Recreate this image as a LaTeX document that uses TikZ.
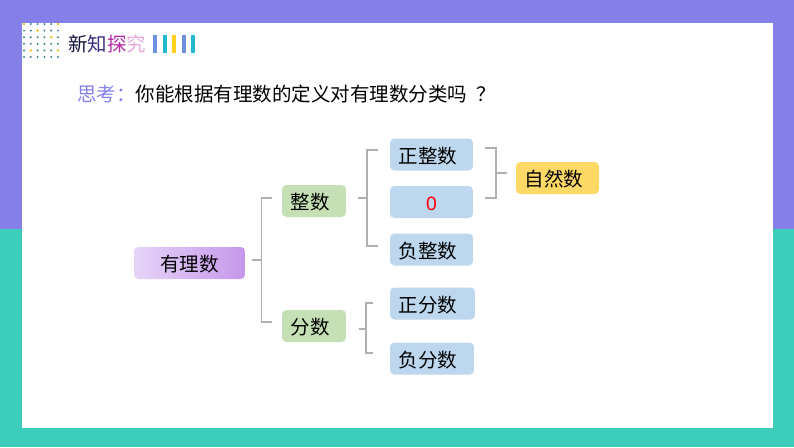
\documentclass[tikz,border=0pt]{standalone}
\usepackage{fontspec}
\usepackage{xcolor}
\setmainfont{Noto Sans CJK SC}
\newfontfamily\latinfont{Liberation Sans}
\definecolor{bgpurple}{HTML}{8480E8}
\definecolor{bgteal}{HTML}{3CCDBB}
\definecolor{boxblue}{HTML}{BDD7EE}
\definecolor{boxgreen}{HTML}{C5E0B4}
\definecolor{boxgold}{HTML}{FFD966}
\definecolor{rootleft}{HTML}{E6D4F9}
\definecolor{rootright}{HTML}{C697EA}
\definecolor{barblue}{HTML}{6F8FE0}
\definecolor{barcyan}{HTML}{22B8D0}
\definecolor{baryellow}{HTML}{FFD21E}
\definecolor{dotteal}{HTML}{3F7F92}
\definecolor{bracegray}{HTML}{B0B0B0}
\tikzset{
	txt/.style={inner sep=0pt, font=\fontsize{11.1}{13}\selectfont},
	cbox/.style={txt, rounded corners=2.5pt, minimum height=0.64cm, align=left, inner xsep=0.17cm, text height=11pt, text depth=1pt},
	leaf/.style={cbox, fill=boxblue, text width=1.32cm},
	mid/.style={cbox, fill=boxgreen, text width=0.94cm},
	brace/.style={draw=bracegray, line width=1pt},
	bar/.style={line width=2.3pt}
}
\begin{document}
\begin{tikzpicture}[x=0.02cm, y=-0.02cm]
		\fill[bgpurple] (0, 0) rectangle (794, 229);
		\fill[bgteal] (0, 229) rectangle (794, 447);
		\fill[white] (22, 23) rectangle (773, 428);
		% dots
		\foreach \i in {0,...,5}
			\foreach \j in {0,...,5}
				\fill[dotteal] (24+6.8*\i, 24+6.6*\j) circle (1.1);
		\fill[baryellow] (24, 24) circle (1.4);
		\fill[baryellow] (58, 24) circle (1.4);
		\fill[baryellow] (37.6, 30.6) circle (1.4);
		\fill[baryellow] (51.2, 37.2) circle (1.4);
		\fill[baryellow] (30.8, 50.4) circle (1.4);
		\fill[baryellow] (58, 50.4) circle (1.4);
		% heading
		\node[txt, anchor=west] (head) at (68, 44.5) {\textcolor[HTML]{14143C}{新}\textcolor[HTML]{3A2A80}{知}\textcolor[HTML]{B828A8}{探}\textcolor[HTML]{E8A8E0}{究}};
		\draw[bar, barblue] (155, 35) -- (155, 53);
		\draw[bar, barcyan] (165, 35) -- (165, 53);
		\draw[bar, baryellow] (174, 35) -- (174, 53);
		\draw[bar, barblue] (184, 35) -- (184, 53);
		\draw[bar, barcyan] (193, 35) -- (193, 53);
		\node[txt, anchor=west] (ask) at (77, 94.5) {\textcolor{bgpurple}{思考：}你能根据有理数的定义对有理数分类吗\kern 5pt ？};
		% boxes
		\node[cbox, text width=1.88cm, align=center, left color=rootleft, right color=rootright] (root) at (189.5, 263) {有理数};
		\node[mid] (int) at (314, 201) {整数};
		\node[mid] (frac) at (314, 326) {分数};
		\node[leaf] (posint) at (431.5, 154.5) {正整数};
		\node[leaf, align=center, text=red, font=\fontsize{11}{13}\latinfont] (zero) at (431.5, 202) {0};
		\node[leaf] (negint) at (431.5, 249.5) {负整数};
		\node[leaf, fill=boxgold] (nat) at (557.5, 178) {自然数};
		\node[leaf, text width=1.36cm] (posfrac) at (432.5, 303.5) {正分数};
		\node[leaf, text width=1.34cm] (negfrac) at (432, 358.5) {负分数};
		% brackets
		\coordinate (a1) at (252, 260);
		\coordinate (a2) at (261.5, 260);
		\coordinate (a3) at (261.5, 198);
		\coordinate (a4) at (272, 198);
		\coordinate (a5) at (261.5, 322);
		\coordinate (a6) at (272, 322);
		\draw[brace] (a1) -- (a2);
		\draw[brace] (a4) -- (a3) -- (a5) -- (a6);
		\coordinate (b1) at (358, 198);
		\coordinate (b2) at (367, 198);
		\coordinate (b3) at (367, 150);
		\coordinate (b4) at (378, 150);
		\coordinate (b5) at (367, 246);
		\coordinate (b6) at (378, 246);
		\draw[brace] (b1) -- (b2);
		\draw[brace] (b4) -- (b3) -- (b5) -- (b6);
		\coordinate (c1) at (485, 148);
		\coordinate (c2) at (496, 148);
		\coordinate (c3) at (496, 198);
		\coordinate (c4) at (485, 198);
		\coordinate (c5) at (496, 173);
		\coordinate (c6) at (507, 173);
		\draw[brace] (c1) -- (c2) -- (c3) -- (c4);
		\draw[brace] (c5) -- (c6);
		\coordinate (d1) at (359, 329);
		\coordinate (d2) at (366, 329);
		\coordinate (d3) at (366, 303);
		\coordinate (d4) at (373, 303);
		\coordinate (d5) at (366, 353);
		\coordinate (d6) at (373, 353);
		\draw[brace] (d1) -- (d2);
		\draw[brace] (d4) -- (d3) -- (d5) -- (d6);
\end{tikzpicture}
\end{document}
